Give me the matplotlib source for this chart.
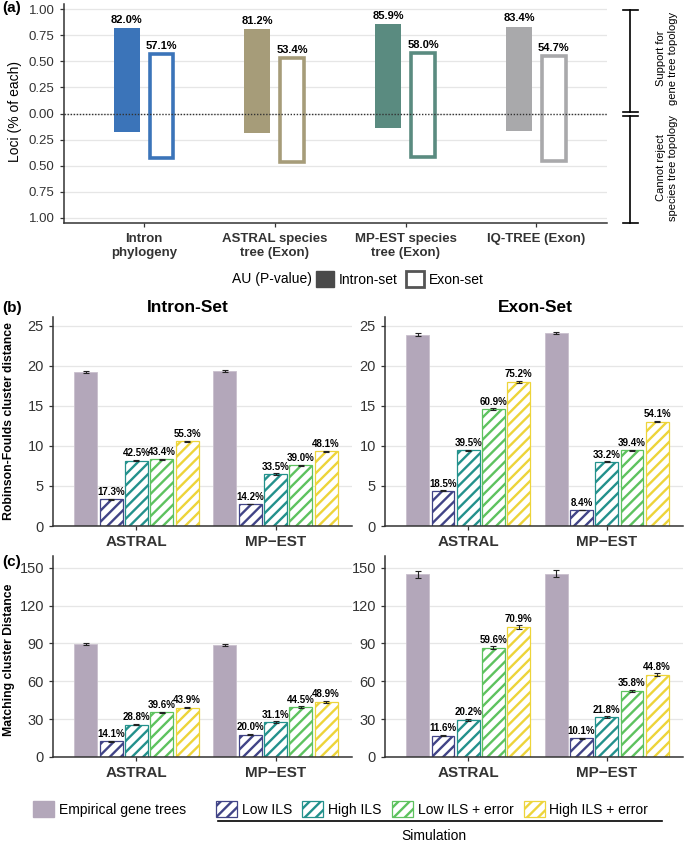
import matplotlib
matplotlib.use("Agg")
import matplotlib.pyplot as plt
from matplotlib.patches import Patch
from matplotlib.lines import Line2D

plt.rcParams["font.family"] = ["Liberation Sans", "DejaVu Sans"]
plt.rcParams["hatch.linewidth"] = 1.7

# ---- panel (a): AU test ----
au_methods = ["Intron\nphylogeny", "ASTRAL species\ntree (Exon)", "MP-EST species\ntree (Exon)", "IQ-TREE (Exon)"]
intron_support = [0.820, 0.812, 0.859, 0.834]
exon_support = [0.571, 0.534, 0.580, 0.547]
intron_labels = ["82.0%", "81.2%", "85.9%", "83.4%"]
exon_labels = ["57.1%", "53.4%", "58.0%", "54.7%"]
au_colors = ["#3B74B9", "#A69C79", "#5A8B80", "#A9A9AB"]
a_ticks = [1.0, 0.75, 0.5, 0.25, 0.0, -0.25, -0.5, -0.75, -1.0]
a_ticklabels = ["1.00", "0.75", "0.50", "0.25", "0.00", "0.25", "0.50", "0.75", "1.00"]

# ---- panels (b), (c) ----
methods = ["ASTRAL", "MP\u2212EST"]
series = ["Empirical gene trees", "Low ILS", "High ILS", "Low ILS + error", "High ILS + error"]
series_colors = ["#B3A7BA", "#414487", "#23918C", "#5EC25F", "#EDD43A"]

rf_intron = [[19.2, 19.33], [3.33, 2.75], [8.17, 6.5], [8.33, 7.58], [10.58, 9.33]]
rf_intron_err = [[0.12, 0.12], [0.06, 0.05], [0.07, 0.07], [0.08, 0.07], [0.08, 0.08]]
rf_intron_pct = [["17.3%", "14.2%"], ["42.5%", "33.5%"], ["43.4%", "39.0%"], ["55.3%", "48.1%"]]

rf_exon = [[23.9, 24.1], [4.4, 2.0], [9.46, 8.0], [14.6, 9.46], [18.0, 13.04]]
rf_exon_err = [[0.15, 0.15], [0.06, 0.05], [0.07, 0.07], [0.1, 0.07], [0.12, 0.1]]
rf_exon_pct = [["18.5%", "8.4%"], ["39.5%", "33.2%"], ["60.9%", "39.4%"], ["75.2%", "54.1%"]]

mc_intron = [[89.2, 89.0], [12.6, 17.8], [25.7, 27.7], [35.3, 39.6], [39.2, 43.6]]
mc_intron_err = [[0.8, 0.8], [0.4, 0.5], [0.5, 0.5], [0.6, 0.6], [0.6, 0.7]]
mc_intron_pct = [["14.1%", "20.0%"], ["28.8%", "31.1%"], ["39.6%", "44.5%"], ["43.9%", "48.9%"]]

mc_exon = [[144.8, 145.3], [16.9, 14.8], [29.5, 31.8], [86.4, 52.2], [102.8, 65.3]]
mc_exon_err = [[3.0, 3.0], [0.6, 0.6], [0.6, 0.6], [1.2, 0.9], [1.5, 1.1]]
mc_exon_pct = [["11.6%", "10.1%"], ["20.2%", "21.8%"], ["59.6%", "35.8%"], ["70.9%", "44.8%"]]

W, H = 685, 842
fig = plt.figure(figsize=(W / 100, H / 100), dpi=100)


def px_axes(l, t, r, b):
    return fig.add_axes([l / W, 1 - b / H, (r - l) / W, (b - t) / H])


def style_axes(ax):
    for s in ["top", "right"]:
        ax.spines[s].set_visible(False)
    for s in ["left", "bottom"]:
        ax.spines[s].set_color("#333333")
        ax.spines[s].set_linewidth(1.1)
    ax.tick_params(colors="#333333", length=3, width=0.9)
    ax.set_axisbelow(True)
    ax.yaxis.grid(True, color="#E6E6E6", linewidth=0.9)


# ================= panel (a) =================
ax = px_axes(63.6, 4, 607, 223)
style_axes(ax)
xa = range(len(au_methods))
for i in xa:
    ax.bar(i - 0.133, 1.0, bottom=-(1 - intron_support[i]),
           width=0.2, color=au_colors[i], linewidth=0)
    ax.bar(i + 0.133, 1.0, bottom=-(1 - exon_support[i]), width=0.18,
           facecolor="white", edgecolor=au_colors[i], linewidth=2.6)
    ax.text(i - 0.133, intron_support[i] + 0.03, intron_labels[i], ha="center", va="bottom",
            fontsize=8, fontweight="bold")
    ax.text(i + 0.133, exon_support[i] + 0.03, exon_labels[i], ha="center", va="bottom",
            fontsize=8, fontweight="bold")
ax.axhline(0, color="#333333", linestyle=(0, (1, 1.2)), linewidth=1.0)
ax.set_ylim(-1.05, 1.05)
ax.set_xlim(-0.615, 3.54)
ax.set_yticks(a_ticks)
ax.set_yticklabels(a_ticklabels, fontsize=9.5)
ax.set_xticks(list(xa))
ax.set_xticklabels(au_methods, fontsize=9.5, fontweight="bold")
ax.tick_params(axis="x", pad=4)
for lab in ax.get_xticklabels():
    lab.set_verticalalignment("top")
fig.text(15 / W, 1 - 112 / H, "Loci (% of each)", rotation=90, ha="center", va="center", fontsize=10)
fig.text(2 / W, 1 - 8 / H, "(a)", fontsize=11, fontweight="bold", va="center")

# bracket on the right
bx = 630
for y0, y1 in [(10, 112), (116, 223)]:
    fig.add_artist(Line2D([bx / W, bx / W], [1 - y0 / H, 1 - y1 / H], color="black", lw=1.2))
for yc in [10, 112, 116, 223]:
    fig.add_artist(Line2D([623 / W, 638 / W], [1 - yc / H, 1 - yc / H], color="black", lw=1.2))
fig.text(667 / W, 1 - 58 / H, "Support for\ngene tree topology", rotation=90, ha="center", va="center",
         fontsize=8, linespacing=1.25)
fig.text(667 / W, 1 - 168 / H, "Cannot reject\nspecies tree topology", rotation=90, ha="center", va="center",
         fontsize=8, linespacing=1.25)

# legend (a)
fig.text(312 / W, 1 - 279 / H, "AU (P-value)", ha="right", va="center", fontsize=10)
a_handles = [Patch(facecolor="#4A4A4A", edgecolor="#4A4A4A"),
             Patch(facecolor="white", edgecolor="#555555", linewidth=2)]
fig.legend(a_handles, ["Intron-set", "Exon-set"], ncol=2, loc="center left",
           bbox_to_anchor=(316 / W, 1 - 279 / H), frameon=False, fontsize=10,
           handlelength=1.3, handleheight=1.3, handletextpad=0.35, columnspacing=0.6,
           borderaxespad=0, borderpad=0)


# ================= panels (b) and (c) =================
def bar_panel(ax, values, errs, pcts, ylim, yticks):
    style_axes(ax)
    step = 0.182
    width = 0.165
    for k in range(len(series)):
        xs = [g + (k - 2) * step for g in range(len(methods))]
        if k == 0:
            ax.bar(xs, values[k], width=width, color=series_colors[k], edgecolor="#C9C0CD", linewidth=0.6)
        else:
            ax.bar(xs, values[k], width=width, facecolor="white", edgecolor=series_colors[k],
                   hatch="///", linewidth=0.9)
        ax.errorbar(xs, values[k], yerr=errs[k], fmt="none", ecolor="#222222",
                    elinewidth=0.8, capsize=2, capthick=0.8)
        if k > 0:
            for j, x in enumerate(xs):
                ax.text(x, values[k][j] + errs[k][j] + ylim * 0.008, pcts[k - 1][j],
                        ha="center", va="bottom", fontsize=7, fontweight="bold")
    ax.set_xlim(-0.6, 1.55)
    ax.set_ylim(0, ylim)
    ax.set_yticks(yticks)
    ax.tick_params(axis="y", labelsize=10.5)
    ax.set_xticks(range(len(methods)))
    ax.set_xticklabels(methods, fontsize=11, fontweight="bold")


axb1 = px_axes(53, 317, 352, 526)
bar_panel(axb1, rf_intron, rf_intron_err, rf_intron_pct, 26.1, [0, 5, 10, 15, 20, 25])
axb2 = px_axes(385, 317, 683, 526)
bar_panel(axb2, rf_exon, rf_exon_err, rf_exon_pct, 26.1, [0, 5, 10, 15, 20, 25])
axc1 = px_axes(53, 556, 352, 757)
bar_panel(axc1, mc_intron, mc_intron_err, mc_intron_pct, 159.3, [0, 30, 60, 90, 120, 150])
axc2 = px_axes(385, 556, 683, 757)
bar_panel(axc2, mc_exon, mc_exon_err, mc_exon_pct, 159.3, [0, 30, 60, 90, 120, 150])

fig.text(188 / W, 1 - 308 / H, "Intron-Set", ha="center", va="center", fontsize=12.5, fontweight="bold")
fig.text(535 / W, 1 - 308 / H, "Exon-Set", ha="center", va="center", fontsize=12.5, fontweight="bold")
fig.text(2 / W, 1 - 308 / H, "(b)", fontsize=11, fontweight="bold", va="center")
fig.text(2 / W, 1 - 562 / H, "(c)", fontsize=11, fontweight="bold", va="center")
fig.text(9 / W, 1 - 421 / H, "Robinson-Foulds cluster distance", rotation=90, ha="center", va="center",
         fontsize=8.8, fontweight="bold")
fig.text(9 / W, 1 - 660 / H, "Matching cluster Distance", rotation=90, ha="center", va="center",
         fontsize=8.8, fontweight="bold")

# bottom legend
emp_handle = [Patch(facecolor=series_colors[0], edgecolor=series_colors[0])]
fig.legend(emp_handle, [series[0]], loc="center left", bbox_to_anchor=(33 / W, 1 - 809 / H),
           frameon=False, fontsize=10, handlelength=1.5, handleheight=1.45, handletextpad=0.4,
           borderaxespad=0, borderpad=0)
sim_handles = [Patch(facecolor="white", edgecolor=c, hatch="///", linewidth=0.9) for c in series_colors[1:]]
fig.legend(sim_handles, series[1:], ncol=4, loc="center left", bbox_to_anchor=(216 / W, 1 - 809 / H),
           frameon=False, fontsize=10, handlelength=1.5, handleheight=1.45, handletextpad=0.35,
           columnspacing=0.75, borderaxespad=0, borderpad=0)
fig.add_artist(Line2D([218 / W, 662 / W], [1 - 821 / H, 1 - 821 / H], color="black", lw=1.2))
fig.text(434 / W, 1 - 836 / H, "Simulation", ha="center", va="center", fontsize=10)

fig.savefig("out.png", dpi=100)
